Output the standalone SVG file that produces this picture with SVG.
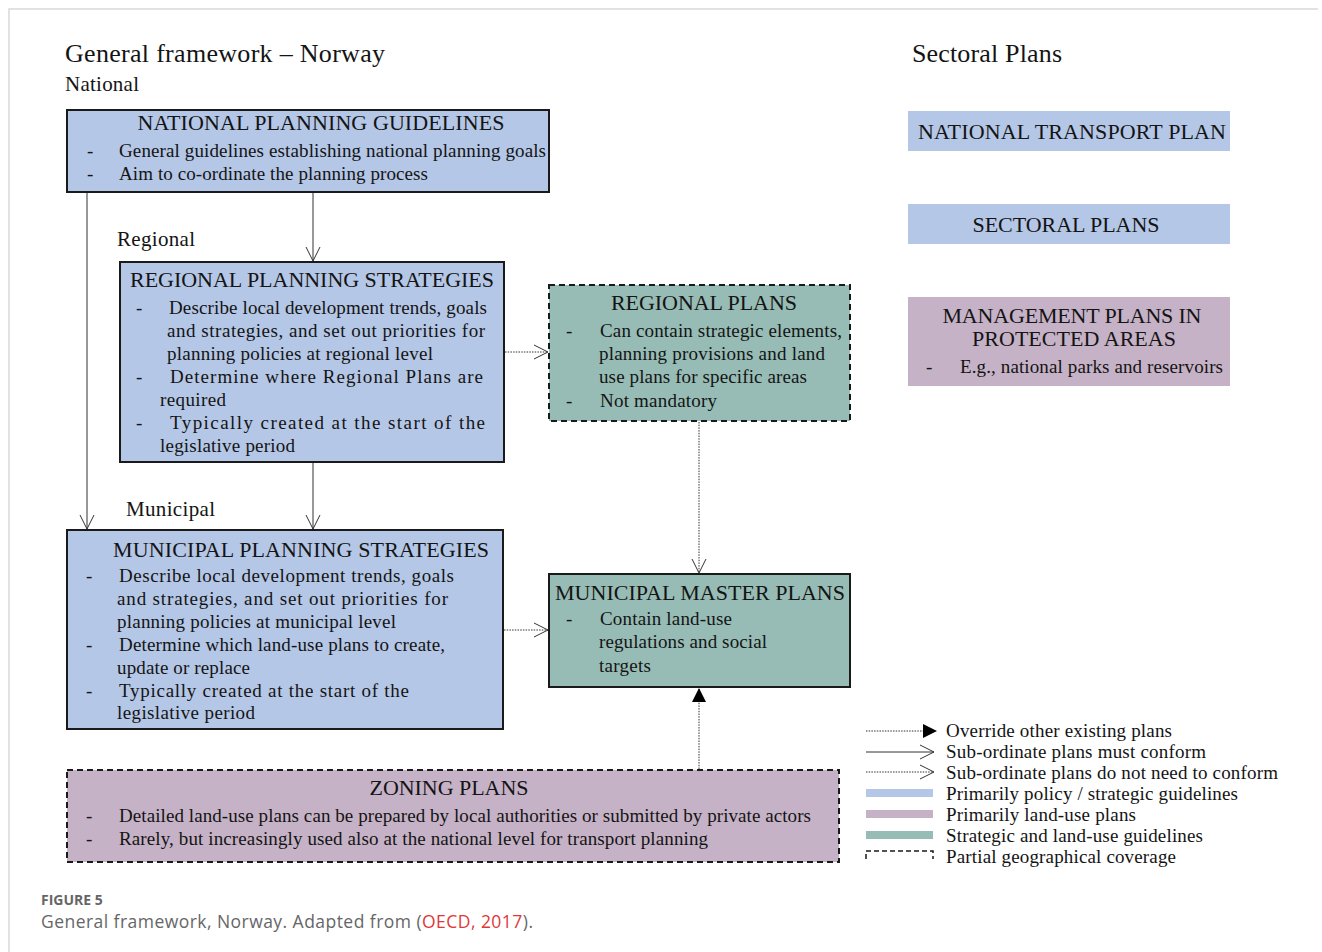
<svg xmlns="http://www.w3.org/2000/svg" width="1322" height="952" viewBox="0 0 1322 952">
<style>
.t{font-family:"Liberation Serif","Times New Roman",serif;fill:#141414;}
.hd{font-size:26px;}
.lb{font-size:21px;}
.ti{font-size:22px;}
.b{font-size:19px;}
.blue{fill:#b4c7e6;}
.mauve{fill:#c6b2c6;}
.teal{fill:#97bcb5;}
.solid{stroke:#1a1a1a;stroke-width:2;}
.dash{stroke:#1a1a1a;stroke-width:2;stroke-dasharray:6 4;}
.ln{stroke:#333;stroke-width:1;fill:none;}
.dot{stroke:#333;stroke-width:1;fill:none;stroke-dasharray:1.5 1.2;}
.cap{font-family:"Open Sans","Liberation Sans",sans-serif;fill:#666;}
</style>
<defs>
<marker id="open" markerUnits="userSpaceOnUse" markerWidth="16" markerHeight="16" viewBox="0 0 16 16" refX="15" refY="8" orient="auto">
<path d="M1,1 L15,8 L1,15" fill="none" stroke="#333" stroke-width="1"/>
</marker>
<marker id="fill" markerUnits="userSpaceOnUse" markerWidth="14" markerHeight="14" viewBox="0 0 14 14" refX="13" refY="7" orient="auto">
<path d="M0,0 L14,7 L0,14 Z" fill="#000"/>
</marker>
</defs>
<rect width="1322" height="952" fill="#fff"/>
<path d="M9,952 V9 H1318" fill="none" stroke="#d9d9d9" stroke-width="1.5"/>

<text class="t hd" x="65" y="62" textLength="320" lengthAdjust="spacing">General framework – Norway</text>
<text class="t hd" x="912" y="62" textLength="150" lengthAdjust="spacing">Sectoral Plans</text>
<text class="t lb" x="65" y="91" textLength="74" lengthAdjust="spacing">National</text>
<text class="t lb" x="117" y="246" textLength="78" lengthAdjust="spacing">Regional</text>
<text class="t lb" x="126" y="516" textLength="89" lengthAdjust="spacing">Municipal</text>

<g id="connectors">
<line class="ln" x1="87" y1="193" x2="87" y2="529" marker-end="url(#open)"/>
<line class="ln" x1="313" y1="193" x2="313" y2="261" marker-end="url(#open)"/>
<line class="ln" x1="313" y1="463" x2="313" y2="529" marker-end="url(#open)"/>
<line class="dot" x1="505" y1="352" x2="548" y2="352" marker-end="url(#open)"/>
<line class="dot" x1="504" y1="630" x2="548" y2="630" marker-end="url(#open)"/>
<line class="dot" x1="699" y1="422" x2="699" y2="573" marker-end="url(#open)"/>
<line class="dot" x1="699" y1="769" x2="699" y2="689" marker-end="url(#fill)"/>
</g>

<g id="national">
<rect class="blue solid" x="67" y="110" width="482" height="82"/>
<text class="t ti" x="321" y="130" text-anchor="middle" textLength="367" lengthAdjust="spacing">NATIONAL PLANNING GUIDELINES</text>
<text class="t b" x="87" y="157">-</text>
<text class="t b" x="119" y="157" textLength="427" lengthAdjust="spacing">General guidelines establishing national planning goals</text>
<text class="t b" x="87" y="180">-</text>
<text class="t b" x="119" y="180" textLength="309" lengthAdjust="spacing">Aim to co-ordinate the planning process</text>
</g>

<g id="regional-strategies">
<rect class="blue solid" x="120" y="262" width="384" height="200"/>
<text class="t ti" x="312" y="287" text-anchor="middle" textLength="364" lengthAdjust="spacing">REGIONAL PLANNING STRATEGIES</text>
<text class="t b" x="136" y="314">-</text>
<text class="t b" x="169" y="314" textLength="318" lengthAdjust="spacing">Describe local development trends, goals</text>
<text class="t b" x="167" y="337" textLength="318" lengthAdjust="spacing">and strategies, and set out priorities for</text>
<text class="t b" x="167" y="360" textLength="266" lengthAdjust="spacing">planning  policies at regional level</text>
<text class="t b" x="136" y="383">-</text>
<text class="t b" x="170" y="383" textLength="313" lengthAdjust="spacing">Determine where Regional Plans are</text>
<text class="t b" x="160" y="406" textLength="66" lengthAdjust="spacing">required</text>
<text class="t b" x="136" y="429">-</text>
<text class="t b" x="170" y="429" textLength="315" lengthAdjust="spacing">Typically created at the start of the</text>
<text class="t b" x="160" y="452" textLength="135" lengthAdjust="spacing">legislative period</text>
</g>

<g id="municipal-strategies">
<rect class="blue solid" x="67" y="530" width="436" height="199"/>
<text class="t ti" x="301" y="557" text-anchor="middle" textLength="376" lengthAdjust="spacing">MUNICIPAL PLANNING STRATEGIES</text>
<text class="t b" x="86" y="582">-</text>
<text class="t b" x="119" y="582" textLength="335" lengthAdjust="spacing">Describe local development trends, goals</text>
<text class="t b" x="117" y="605" textLength="331" lengthAdjust="spacing">and strategies, and set out priorities for</text>
<text class="t b" x="117" y="628" textLength="279" lengthAdjust="spacing">planning policies at municipal level</text>
<text class="t b" x="86" y="651">-</text>
<text class="t b" x="119" y="651" textLength="326" lengthAdjust="spacing">Determine which land-use plans to create,</text>
<text class="t b" x="117" y="674" textLength="133" lengthAdjust="spacing">update or replace</text>
<text class="t b" x="86" y="697">-</text>
<text class="t b" x="119" y="697" textLength="290" lengthAdjust="spacing">Typically created at the start of the</text>
<text class="t b" x="117" y="719" textLength="138" lengthAdjust="spacing">legislative period</text>
</g>

<g id="regional-plans">
<rect class="teal dash" x="549" y="285" width="301" height="136"/>
<text class="t ti" x="704" y="310" text-anchor="middle" textLength="186" lengthAdjust="spacing">REGIONAL PLANS</text>
<text class="t b" x="566" y="337">-</text>
<text class="t b" x="600" y="337" textLength="242" lengthAdjust="spacing">Can contain strategic elements,</text>
<text class="t b" x="599" y="360" textLength="226" lengthAdjust="spacing">planning provisions and land</text>
<text class="t b" x="599" y="383" textLength="208" lengthAdjust="spacing">use plans for specific areas</text>
<text class="t b" x="566" y="407">-</text>
<text class="t b" x="600" y="407" textLength="117" lengthAdjust="spacing">Not mandatory</text>
</g>

<g id="municipal-master-plans">
<rect class="teal solid" x="549" y="574" width="301" height="113"/>
<text class="t ti" x="700" y="600" text-anchor="middle" textLength="290" lengthAdjust="spacing">MUNICIPAL MASTER PLANS</text>
<text class="t b" x="566" y="625">-</text>
<text class="t b" x="600" y="625" textLength="132" lengthAdjust="spacing">Contain land-use</text>
<text class="t b" x="599" y="648" textLength="168" lengthAdjust="spacing">regulations and social</text>
<text class="t b" x="599" y="672" textLength="52" lengthAdjust="spacing">targets</text>
</g>

<g id="zoning-plans">
<rect class="mauve dash" x="67" y="770" width="772" height="92"/>
<text class="t ti" x="449" y="795" text-anchor="middle" textLength="159" lengthAdjust="spacing">ZONING PLANS</text>
<text class="t b" x="86" y="822">-</text>
<text class="t b" x="119" y="822" textLength="692" lengthAdjust="spacing">Detailed land-use plans can be prepared by local authorities or submitted by private actors</text>
<text class="t b" x="86" y="845">-</text>
<text class="t b" x="119" y="845" textLength="589" lengthAdjust="spacing">Rarely, but increasingly used also at the national level for transport planning</text>
</g>

<g id="national-transport-plan">
<rect class="blue" x="908" y="111" width="322" height="40"/>
<text class="t ti" x="1072" y="139" text-anchor="middle" textLength="308" lengthAdjust="spacing">NATIONAL TRANSPORT PLAN</text>
</g>

<g id="sectoral-plans">
<rect class="blue" x="908" y="204" width="322" height="40"/>
<text class="t ti" x="1066" y="232" text-anchor="middle" textLength="187" lengthAdjust="spacing">SECTORAL PLANS</text>
</g>

<g id="management-plans">
<rect class="mauve" x="908" y="297" width="322" height="89"/>
<text class="t ti" x="1072" y="323" text-anchor="middle" textLength="259" lengthAdjust="spacing">MANAGEMENT PLANS IN</text>
<text class="t ti" x="1074" y="346" text-anchor="middle" textLength="204" lengthAdjust="spacing">PROTECTED AREAS</text>
<text class="t b" x="926" y="373">-</text>
<text class="t b" x="960" y="373" textLength="263" lengthAdjust="spacing">E.g., national parks and reservoirs</text>
</g>

<g id="legend">
<line class="dot" x1="866" y1="731" x2="936" y2="731" marker-end="url(#fill)"/>
<text class="t b" x="946" y="737" textLength="226" lengthAdjust="spacing">Override other existing plans</text>
<line class="ln" x1="866" y1="752" x2="934" y2="752" marker-end="url(#open)"/>
<text class="t b" x="946" y="758" textLength="260" lengthAdjust="spacing">Sub-ordinate plans must conform</text>
<line class="dot" x1="866" y1="772" x2="934" y2="772" marker-end="url(#open)"/>
<text class="t b" x="946" y="779" textLength="332" lengthAdjust="spacing">Sub-ordinate plans do not need to conform</text>
<rect class="blue" x="866" y="789" width="67" height="8"/>
<text class="t b" x="946" y="800" textLength="292" lengthAdjust="spacing">Primarily policy / strategic guidelines</text>
<rect class="mauve" x="866" y="810" width="67" height="8"/>
<text class="t b" x="946" y="821" textLength="190" lengthAdjust="spacing">Primarily land-use plans</text>
<rect class="teal" x="866" y="831" width="67" height="8"/>
<text class="t b" x="946" y="842" textLength="257" lengthAdjust="spacing">Strategic and land-use guidelines</text>
<path d="M866,859 V851 H933 V859" fill="none" stroke="#1a1a1a" stroke-width="1.5" stroke-dasharray="5 3"/>
<text class="t b" x="946" y="863" textLength="230" lengthAdjust="spacing">Partial geographical coverage</text>
</g>

<text class="cap" x="41" y="905" font-size="14" font-weight="bold" fill="#777">FIGURE 5</text>
<text class="cap" x="41" y="928" font-size="17.5" textLength="492" lengthAdjust="spacing">General framework, Norway. Adapted from (<tspan fill="#e0383a">OECD, 2017</tspan>).</text>
</svg>
